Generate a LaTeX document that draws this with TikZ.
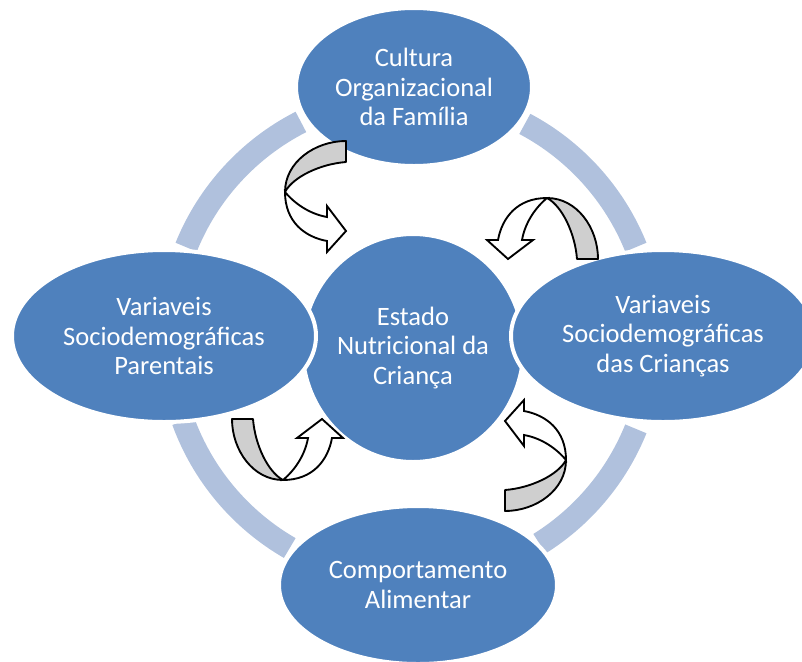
\documentclass[tikz,border=0pt]{standalone}
\usepackage{fontspec}
\setmainfont{Carlito}
\usepackage{tikz}
\usetikzlibrary{positioning,shapes.geometric}
\definecolor{palBlue}{HTML}{4F81BD}
\definecolor{palRing}{HTML}{B0C1DD}
\definecolor{palBack}{HTML}{CFCFCF}
\tikzset{
  blobnode/.style={ellipse, draw=white, line width=3pt, fill=palBlue,
                   text=white, align=center, inner sep=0pt,
                   font=\fontsize{19.9}{22}\selectfont},
  ringseg/.style={palRing, line width=17.25pt},
  backface/.style={draw=black, fill=palBack, line width=1.4pt, line join=round},
  frontface/.style={draw=black, fill=white, line width=1.4pt},
  twistarrow/.pic={
    \path[frontface] (0,0) .. controls (30,0) and (45,20) .. (49,42)
      -- (60,42) -- (39,61) -- (14,42) -- (25,42)
      .. controls (22,25) and (12,10) .. (0,0) -- cycle;
    \path[backface] (-51,61) -- (-30,61) .. controls (-28,35) and (-15,8) .. (0,0)
      .. controls (-30,0) and (-51,30) .. (-51,61) -- cycle;
  },
}

\begin{document}
\begin{tikzpicture}[x=0.75pt, y=0.75pt]
\useasboundingbox (0,0) rectangle (802,-661);
\clip (0,0) rectangle (802,-661);
% Ring centre and radius
\def\ringR{242.5}
\coordinate (hub) at (411,-338);

%% Ring segments
\foreach \a/\b in {22/62, 117/158, 200/240, 302/338} {
  \draw[ringseg] (hub) ++(\a:\ringR) arc[start angle=\a, end angle=\b, radius=\ringR];
}

%% Centre
\node[blobnode, minimum width=165.75pt, minimum height=171pt] (estado) at (413,-348)
  {Estado\\Nutricional da\\Criança};

%% Outer factors
\node[blobnode, minimum width=177pt, minimum height=118.5pt] (cultura) at (414,-87)
  {Cultura\\Organizacional\\da Família};
\node[blobnode, minimum width=228pt, minimum height=129pt] (parentais) at (164,-336)
  {Variaveis\\Sociodemográficas\\Parentais};
\node[blobnode, minimum width=228pt, minimum height=129pt] (criancas) at (663,-336)
  {Variaveis\\Sociodemográficas\\das Crianças};
\node[blobnode, minimum width=208.5pt, minimum height=118.5pt] (comport) at (418,-585)
  {Comportamento\\Alimentar};

%% Twisted arrows
\pic[rotate=-90] at (285,-192) {twistarrow};
\pic[rotate=180] at (547,-198) {twistarrow};
\pic at (283,-480) {twistarrow};
\pic[rotate=90] at (566,-460) {twistarrow};
\end{tikzpicture}
\end{document}
